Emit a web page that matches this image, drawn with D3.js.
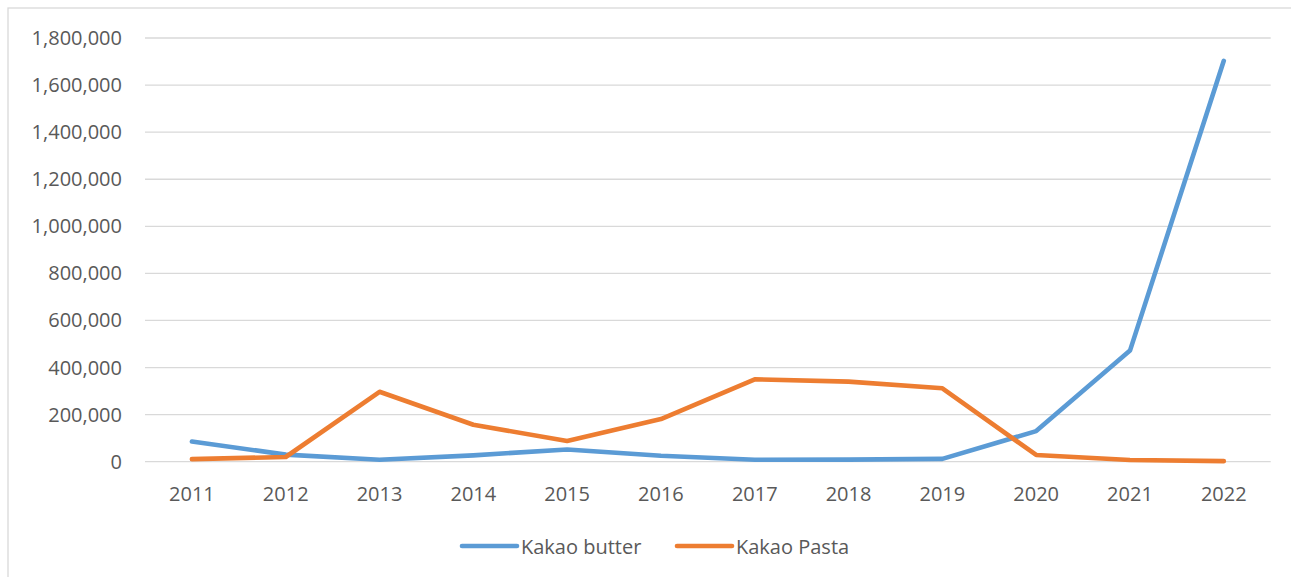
<!DOCTYPE html>
<html>
<head>
<meta charset="utf-8">
<script src="https://cdn.jsdelivr.net/npm/d3@7"></script>
<style>
  body { margin: 0; background: #fff; }
  svg { display: block; font-family: "Open Sans", sans-serif; }
</style>
</head>
<body>
<svg id="chart" width="1291" height="577"></svg>
<script>
// data
const years = ["2011", "2012", "2013", "2014", "2015", "2016", "2017", "2018", "2019", "2020", "2021", "2022"];
const butter = [86000, 30000, 8000, 27000, 52000, 25000, 8000, 9000, 12000, 130000, 472000, 1703000];
const pasta = [11000, 20000, 297000, 157000, 88000, 181000, 350000, 340000, 312000, 28500, 7000, 2500];
const yTicks = [0, 200000, 400000, 600000, 800000, 1000000, 1200000, 1400000, 1600000, 1800000];

const series = [
    {name: "Kakao butter", values: butter, color: "#5b9bd5"},
    {name: "Kakao Pasta", values: pasta, color: "#ed7d31"}
];

const svg = d3.select("#chart");
const plot = {left: 145, right: 1270.7, top: 38, bottom: 461.7};

// chart frame
svg.append("rect")
    .attr("x", 8).attr("y", 8)
    .attr("width", 1300).attr("height", 600)
    .attr("fill", "none")
    .attr("stroke", "#d9d9d9")
    .attr("stroke-width", 1.3);

const x = d3.scalePoint()
    .domain(years)
    .range([plot.left, plot.right])
    .padding(0.5);

const y = d3.scaleLinear()
    .domain([0, 1800000])
    .range([plot.bottom, plot.top]);

const fmt = d3.format(",");

// gridlines
svg.append("g").selectAll("line")
    .data(yTicks)
    .enter().append("line")
        .attr("x1", plot.left)
        .attr("x2", plot.right)
        .attr("y1", d => y(d))
        .attr("y2", d => y(d))
        .attr("stroke", "#d9d9d9")
        .attr("stroke-width", 1.3)

// y labels
svg.append("g").selectAll("text")
    .data(yTicks)
    .enter().append("text")
        .attr("x", 122)
        .attr("y", d => y(d))
        .attr("dy", "0.35em")
        .attr("text-anchor", "end")
        .attr("font-size", 20)
        .attr("fill", "#595959")
        .text(d => fmt(d))

// x labels
svg.append("g").selectAll("text")
    .data(years)
    .enter().append("text")
        .attr("x", d => x(d))
        .attr("y", 500.5)
        .attr("text-anchor", "middle")
        .attr("font-size", 20)
        .attr("fill", "#595959")
        .text(d => d)

const line = d3.line()
    .x((d, i) => x(years[i]))
    .y(d => y(d));

svg.append("g").selectAll("path")
    .data(series)
    .enter().append("path")
        .attr("d", d => line(d.values))
        .attr("fill", "none")
        .attr("stroke", d => d.color)
        .attr("stroke-width", 4.6)
        .attr("stroke-linecap", "round")
        .attr("stroke-linejoin", "round")

// legend
const legendX = [462, 677];
const legend = svg.append("g").selectAll("g")
    .data(series)
    .enter().append("g")
        .attr("transform", (d, i) => "translate(" + legendX[i] + ",546)")

legend.append("line")
    .attr("x1", 0).attr("x2", 55)
    .attr("y1", 0).attr("y2", 0)
    .attr("stroke", d => d.color)
    .attr("stroke-width", 4.6)
    .attr("stroke-linecap", "round")

legend.append("text")
    .attr("x", 59)
    .attr("y", 8)
    .attr("font-size", 20)
    .attr("fill", "#595959")
    .text(d => d.name)
</script>
</body>
</html>
